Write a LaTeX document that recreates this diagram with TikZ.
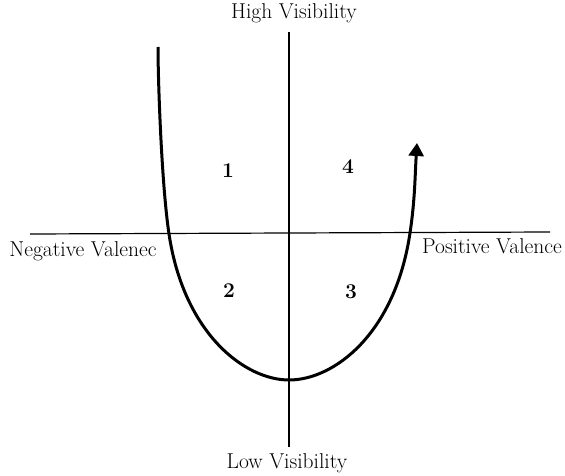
\documentclass[tikz,border=0pt]{standalone}
\usetikzlibrary{arrows.meta}
\begin{document}
\begin{tikzpicture}[x=1pt,y=-1pt,
  axis/.style={line width=1.2pt},
  curve/.style={line width=3pt, line cap=butt},
  lbl/.style={font=\fontsize{21.5}{24}\selectfont, anchor=base, inner sep=0pt},
  qnum/.style={font=\fontsize{21}{24}\selectfont\bfseries, anchor=base, inner sep=0pt}]
\useasboundingbox (0,0) rectangle (565,476);
% axes
\coordinate (vtop) at (289,32);
\coordinate (vbot) at (289,447);
\coordinate (hleft) at (30,234);
\coordinate (hright) at (550,232);
\draw[axis] (vtop) -- (vbot);
\draw[axis] (hleft) -- (hright);
% labels
\node[lbl] (high) at (294,19) {High Visibility};
\node[lbl] (low) at (287,468) {Low Visibility};
\node[lbl] (neg) at (83,256) {Negative Valenec};
\node[lbl] (pos) at (492,253) {Positive Valence};
% quadrant numbers
\node[qnum] (q1) at (228,178) {1};
\node[qnum] (q4) at (348,174) {4};
\node[qnum] (q2) at (229,297) {2};
\node[qnum] (q3) at (351,298) {3};
% U curve
\coordinate (cstart) at (158,47);
\coordinate (cl) at (169,234);
\coordinate (cbot) at (289,380);
\coordinate (cr) at (410,233);
\coordinate (cend) at (417,143);
\draw[curve, -{Triangle[length=13pt,width=15pt]}]
  (cstart) .. controls (158,80) and (161.5,184) .. (cl)
  .. controls (184,334) and (245,380) .. (cbot)
  .. controls (334,380) and (395,334) .. (cr)
  .. controls (415,200) and (415,175) .. (cend);
\end{tikzpicture}
\end{document}
